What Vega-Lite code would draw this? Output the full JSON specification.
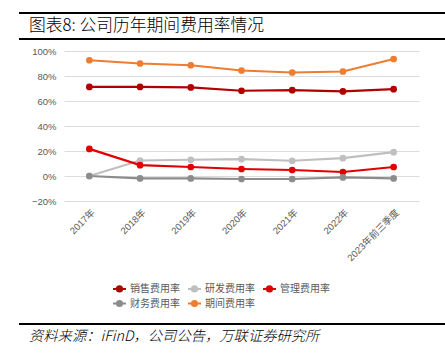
{
  "$schema": "https://vega.github.io/schema/vega-lite/v6.json",
  "padding": {"left": 18, "top": 12, "right": 0, "bottom": 0},
  "background": "white",
  "columns": 1,
  "spacing": 6,
  "config": {
    "view": {"stroke": null},
    "font": "Liberation Sans, Noto Sans CJK SC"
  },
  "concat": [
    {
      "width": 383,
      "height": 26,
      "layer": [
        {
          "data": {"values": [{"p": 0}, {"p": 1}]},
          "mark": {"type": "rule", "color": "#000000", "strokeWidth": 2},
          "encoding": {
            "x": {"datum": 0, "type": "quantitative", "scale": {"domain": [0, 1], "range": [-45, 383]}, "axis": null},
            "x2": {"datum": 1},
            "y": {"field": "p", "type": "quantitative", "scale": {"domain": [0, 1]}, "axis": null}
          }
        },
        {
          "data": {"values": [{"p": 0.5, "t": "图表8: 公司历年期间费用率情况"}]},
          "mark": {"type": "text", "align": "left", "baseline": "middle", "dx": 10, "fontSize": 16.8, "font": "Noto Sans CJK SC", "fontWeight": 300, "color": "#000000"},
          "encoding": {
            "x": {"datum": 0, "type": "quantitative"},
            "y": {"field": "p", "type": "quantitative"},
            "text": {"field": "t"}
          }
        }
      ]
    },
    {
      "width": 355,
      "height": 150,
      "data": {
        "values": [
          {"year": "2017年", "series": "销售费用率", "value": 0.713},
          {"year": "2018年", "series": "销售费用率", "value": 0.713},
          {"year": "2019年", "series": "销售费用率", "value": 0.709},
          {"year": "2020年", "series": "销售费用率", "value": 0.682},
          {"year": "2021年", "series": "销售费用率", "value": 0.687},
          {"year": "2022年", "series": "销售费用率", "value": 0.677},
          {"year": "2023年前三季度", "series": "销售费用率", "value": 0.695},
          {"year": "2017年", "series": "研发费用率", "value": 0.0},
          {"year": "2018年", "series": "研发费用率", "value": 0.124},
          {"year": "2019年", "series": "研发费用率", "value": 0.130},
          {"year": "2020年", "series": "研发费用率", "value": 0.135},
          {"year": "2021年", "series": "研发费用率", "value": 0.122},
          {"year": "2022年", "series": "研发费用率", "value": 0.143},
          {"year": "2023年前三季度", "series": "研发费用率", "value": 0.191},
          {"year": "2017年", "series": "管理费用率", "value": 0.217},
          {"year": "2018年", "series": "管理费用率", "value": 0.087},
          {"year": "2019年", "series": "管理费用率", "value": 0.072},
          {"year": "2020年", "series": "管理费用率", "value": 0.056},
          {"year": "2021年", "series": "管理费用率", "value": 0.048},
          {"year": "2022年", "series": "管理费用率", "value": 0.032},
          {"year": "2023年前三季度", "series": "管理费用率", "value": 0.072},
          {"year": "2017年", "series": "财务费用率", "value": 0.0},
          {"year": "2018年", "series": "财务费用率", "value": -0.019},
          {"year": "2019年", "series": "财务费用率", "value": -0.019},
          {"year": "2020年", "series": "财务费用率", "value": -0.024},
          {"year": "2021年", "series": "财务费用率", "value": -0.024},
          {"year": "2022年", "series": "财务费用率", "value": -0.011},
          {"year": "2023年前三季度", "series": "财务费用率", "value": -0.019},
          {"year": "2017年", "series": "期间费用率", "value": 0.926},
          {"year": "2018年", "series": "期间费用率", "value": 0.900},
          {"year": "2019年", "series": "期间费用率", "value": 0.886},
          {"year": "2020年", "series": "期间费用率", "value": 0.844},
          {"year": "2021年", "series": "期间费用率", "value": 0.828},
          {"year": "2022年", "series": "期间费用率", "value": 0.836},
          {"year": "2023年前三季度", "series": "期间费用率", "value": 0.936}
        ]
      },
      "encoding": {
        "x": {
          "field": "year", "type": "ordinal", "sort": null,
          "scale": {"type": "point", "padding": 0.5},
          "axis": {"title": null, "labelAngle": -45, "labelFontSize": 9.5, "labelColor": "#595959", "ticks": false, "domain": false, "grid": false, "labelPadding": 6}
        },
        "y": {
          "field": "value", "type": "quantitative",
          "scale": {"domain": [-0.2, 1.0], "nice": false},
          "axis": {"values": [-0.2, 0, 0.2, 0.4, 0.6, 0.8, 1.0], "format": ".0%", "labelFontSize": 9.5, "labelColor": "#595959", "labelPadding": 8, "ticks": false, "domain": false, "gridColor": "#dcdcdc", "gridWidth": 1, "title": "a", "titleColor": "#ffffff", "titleFontSize": 10, "titlePadding": 0}
        }
      },
      "layer": [
        {
          "mark": {"type": "line", "strokeWidth": 2.2},
          "encoding": {
            "color": {
              "field": "series", "type": "nominal",
              "scale": {"domain": ["销售费用率", "研发费用率", "管理费用率", "财务费用率", "期间费用率"], "range": ["#B00000", "#BFBFBF", "#E00000", "#8C8C8C", "#ED7D31"]},
              "legend": {"title": null, "orient": "none", "legendX": 42, "legendY": 224, "direction": "horizontal", "columns": 3, "labelFontSize": 10, "labelColor": "#595959", "labelFont": "Noto Sans CJK SC", "labelOffset": 3, "symbolType": "M -1 0 L 1 0 M -0.4 0 A 0.4 0.4 0 1 0 0.4 0 A 0.4 0.4 0 1 0 -0.4 0 M -0.15 0 A 0.15 0.15 0 1 0 0.15 0 A 0.15 0.15 0 1 0 -0.15 0", "symbolSize": 169, "symbolStrokeWidth": 2, "columnPadding": 4, "rowPadding": 0, "padding": 6}
            }
          }
        },
        {
          "mark": {"type": "point", "filled": true, "size": 45, "opacity": 1},
          "encoding": {
            "color": {"field": "series", "type": "nominal", "legend": null}
          }
        }
      ]
    },
    {
      "width": 383,
      "height": 20,
      "layer": [
        {
          "data": {"values": [{"p": 1}]},
          "mark": {"type": "rule", "color": "#000000", "strokeWidth": 2},
          "encoding": {
            "x": {"datum": 0, "type": "quantitative", "scale": {"domain": [0, 1], "range": [-45, 383]}, "axis": null},
            "x2": {"datum": 1},
            "y": {"field": "p", "type": "quantitative", "scale": {"domain": [0, 1]}, "axis": null}
          }
        },
        {
          "data": {"values": [{"p": 0.35, "t": "资料来源：iFinD，公司公告，万联证券研究所"}]},
          "mark": {"type": "text", "align": "left", "baseline": "middle", "dx": 10, "fontSize": 14.3, "fontStyle": "italic", "font": "Noto Sans CJK SC", "fontWeight": 300, "color": "#000000"},
          "encoding": {
            "x": {"datum": 0, "type": "quantitative"},
            "y": {"field": "p", "type": "quantitative"},
            "text": {"field": "t"}
          }
        }
      ]
    }
  ],
  "resolve": {"scale": {"x": "independent", "y": "independent", "color": "independent"}}
}
